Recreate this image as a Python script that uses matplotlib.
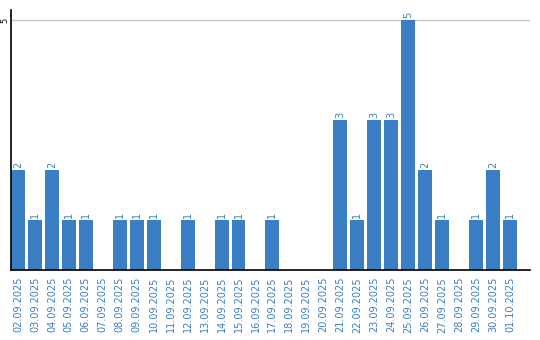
import numpy as np
import matplotlib.pyplot as plt

dates = ['02.09.2025', '03.09.2025', '04.09.2025', '05.09.2025', '06.09.2025',
         '07.09.2025', '08.09.2025', '09.09.2025', '10.09.2025', '11.09.2025',
         '12.09.2025', '13.09.2025', '14.09.2025', '15.09.2025', '16.09.2025',
         '17.09.2025', '18.09.2025', '19.09.2025', '20.09.2025', '21.09.2025',
         '22.09.2025', '23.09.2025', '24.09.2025', '25.09.2025', '26.09.2025',
         '27.09.2025', '28.09.2025', '29.09.2025', '30.09.2025', '01.10.2025']
counts = [2, 1, 2, 1, 1, 0, 1, 1, 1, 0,
          1, 0, 1, 1, 0, 1, 0, 0, 0, 3,
          1, 3, 3, 5, 2, 1, 0, 1, 2, 1]

bar_color = '#3a7ec3'

fig = plt.figure(figsize=(5.4, 3.4), dpi=100)
ax = fig.add_axes([11 / 540, 70 / 340, 519 / 540, 260 / 340])

x = np.arange(len(dates))
ax.bar(x, counts, width=0.82, color=bar_color, zorder=2)
for xi, c in zip(x, counts):
    if c > 0:
        ax.text(xi, c + 0.04, str(c), rotation=90, ha='center', va='bottom',
                fontsize=7, color=bar_color)

ax.set_xlim(-0.41, 30.18)
ax.set_ylim(0, 5.2)
ax.set_yticks([5])
ax.set_yticklabels(['5'], rotation=90, fontsize=6, va='center')
ax.yaxis.grid(True, color='#c8c8c8', linewidth=1, zorder=0)
ax.tick_params(axis='y', length=0, pad=1)
ax.set_xticks(x)
ax.set_xticklabels(dates, rotation=90, fontsize=7, color=bar_color)
ax.tick_params(axis='x', length=0, pad=5)

for s in ['top', 'right']:
    ax.spines[s].set_visible(False)
ax.spines['left'].set_linewidth(1.2)
ax.spines['bottom'].set_linewidth(1.2)

fig.savefig('out.png', dpi=100)
